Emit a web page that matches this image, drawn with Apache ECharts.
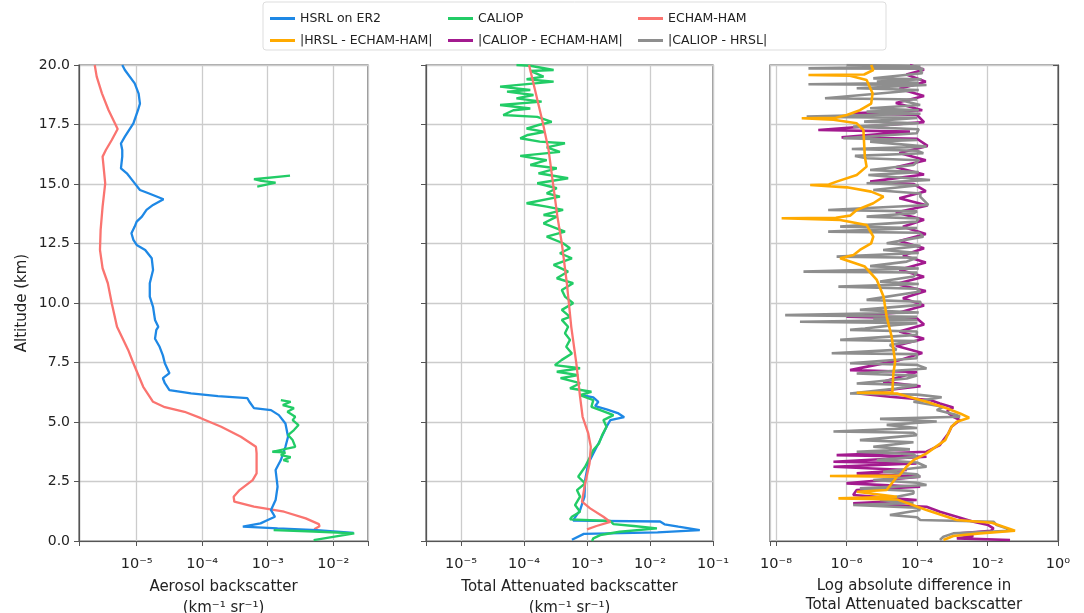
<!DOCTYPE html>
<html>
<head>
<meta charset="utf-8">
<script src="https://cdn.jsdelivr.net/npm/echarts@6/dist/echarts.min.js"></script>
<style>
  html, body { margin: 0; padding: 0; background: #fff; }
  #chart { width: 1084px; height: 613px; }
</style>
</head>
<body>
<div id="chart"></div>
<script>
// each profile: [altitude km, log10 of backscatter]
const hsrlAerosol = [[20.0,-5.22],[19.79,-5.18],[19.23,-5.03],[18.8,-4.97],[18.38,-4.95],[18.1,-4.98],[17.55,-5.05],[16.99,-5.18],[16.7,-5.24],[16.43,-5.22],[16.15,-5.22],[15.66,-5.24],[15.45,-5.15],[15.1,-5.05],[14.75,-4.95],[14.61,-4.82],[14.36,-4.59],[14.12,-4.75],[13.91,-4.85],[13.63,-4.92],[13.42,-5.0],[13.21,-5.03],[12.93,-5.08],[12.65,-5.05],[12.44,-5.0],[12.23,-4.87],[11.88,-4.77],[11.39,-4.75],[10.83,-4.8],[10.27,-4.8],[9.84,-4.75],[9.29,-4.72],[9.0,-4.67],[8.87,-4.7],[8.5,-4.72],[8.16,-4.65],[7.8,-4.6],[7.47,-4.57],[7.05,-4.5],[6.84,-4.6],[6.63,-4.57],[6.34,-4.5],[6.2,-4.17],[6.09,-3.76],[6.0,-3.31],[5.85,-3.28],[5.58,-3.21],[5.5,-2.95],[5.29,-2.83],[4.94,-2.73],[4.38,-2.69],[3.96,-2.73],[3.4,-2.8],[2.98,-2.88],[2.28,-2.85],[1.72,-2.88],[1.3,-2.95],[1.02,-2.89],[0.88,-3.0],[0.74,-3.11],[0.6,-3.38],[0.53,-2.85],[0.46,-2.25],[0.34,-1.69]];
const echamAerosol = [[20.0,-5.64],[19.51,-5.61],[18.81,-5.53],[18.11,-5.43],[17.31,-5.29],[16.85,-5.38],[16.43,-5.47],[16.15,-5.52],[15.03,-5.48],[14.05,-5.52],[13.07,-5.55],[12.23,-5.56],[11.46,-5.52],[10.83,-5.44],[9.99,-5.38],[9.0,-5.3],[8.03,-5.13],[7.47,-5.05],[6.48,-4.9],[5.85,-4.75],[5.62,-4.57],[5.43,-4.27],[5.16,-4.02],[4.8,-3.71],[4.38,-3.41],[3.96,-3.18],[3.68,-3.17],[2.84,-3.17],[2.56,-3.23],[2.14,-3.43],[1.86,-3.52],[1.65,-3.51],[1.44,-3.21],[1.23,-2.75],[0.95,-2.42],[0.71,-2.22],[0.62,-2.21],[0.49,-2.29]];
const caliopAerosolHigh = [[15.35,-2.66],[15.2,-3.21],[15.13,-3.1],[15.06,-2.88],[14.89,-3.16]];
const caliopAerosolMid = [[5.92,-2.8],[5.85,-2.65],[5.71,-2.77],[5.58,-2.6],[5.43,-2.7],[5.22,-2.58],[5.08,-2.62],[4.87,-2.53],[4.66,-2.6],[4.45,-2.69],[4.24,-2.62],[3.96,-2.58],[3.75,-2.93],[3.72,-2.73],[3.61,-2.8],[3.52,-2.65],[3.4,-2.76],[3.33,-2.68]];
const caliopAerosolLow = [[0.46,-2.91],[0.4,-2.3],[0.32,-1.68],[0.04,-2.3]];

const hsrlTotal = [[6.13,-3.08],[6.03,-2.9],[5.85,-2.82],[5.67,-2.87],[5.53,-2.69],[5.36,-2.5],[5.2,-2.41],[5.08,-2.63],[4.8,-2.69],[4.24,-2.79],[3.68,-2.9],[3.26,-2.98],[2.56,-3.03],[1.86,-3.04],[1.3,-3.11],[0.95,-3.2],[0.86,-3.22],[0.82,-1.84],[0.7,-1.77],[0.6,-1.55],[0.46,-1.21],[0.36,-1.88],[0.3,-3.05],[0.05,-3.24]];
const echamTotal = [[20.0,-3.92],[19.0,-3.83],[17.55,-3.7],[16.43,-3.61],[15.03,-3.54],[13.63,-3.47],[12.51,-3.4],[10.83,-3.32],[9.0,-3.25],[7.47,-3.17],[6.06,-3.11],[5.22,-3.07],[4.52,-2.98],[3.96,-2.94],[3.26,-2.96],[2.42,-3.03],[1.65,-3.08],[1.37,-2.95],[1.02,-2.74],[0.8,-2.63],[0.63,-2.85],[0.49,-3.0]];
const caliopTotal = [[20.0,-4.12],[19.97,-3.9],[19.79,-3.53],[19.75,-3.9],[19.51,-3.69],[19.4,-3.96],[19.3,-3.53],[19.09,-4.38],[18.95,-3.9],[18.88,-4.27],[18.74,-3.85],[18.6,-4.12],[18.46,-3.72],[18.32,-4.38],[18.17,-3.9],[18.1,-4.17],[17.9,-4.33],[17.82,-3.79],[17.61,-3.56],[17.48,-3.77],[17.33,-3.96],[17.19,-3.67],[17.06,-3.94],[16.92,-4.06],[16.78,-3.75],[16.71,-3.35],[16.54,-3.64],[16.35,-3.43],[16.18,-4.06],[16.0,-3.64],[15.8,-3.9],[15.66,-3.48],[15.45,-3.77],[15.24,-3.3],[15.03,-3.79],[14.82,-3.48],[14.61,-3.64],[14.47,-3.43],[14.19,-3.96],[14.05,-3.64],[13.91,-3.38],[13.7,-3.69],[13.63,-3.48],[13.35,-3.69],[13.0,-3.35],[12.79,-3.64],[12.51,-3.38],[12.3,-3.27],[12.09,-3.43],[11.88,-3.24],[11.6,-3.53],[11.32,-3.3],[11.04,-3.48],[10.83,-3.22],[10.55,-3.4],[10.27,-3.35],[9.99,-3.22],[9.71,-3.4],[9.42,-3.27],[9.29,-3.4],[9.0,-3.3],[8.73,-3.35],[8.45,-3.27],[8.16,-3.33],[7.88,-3.24],[7.61,-3.4],[7.39,-3.51],[7.26,-3.11],[7.11,-3.48],[6.97,-3.14],[6.84,-3.42],[6.63,-3.11],[6.42,-3.27],[6.27,-2.93],[6.13,-3.11],[5.92,-2.9],[5.64,-2.93],[5.5,-2.79],[5.29,-2.58],[5.08,-2.74],[4.8,-2.69],[4.45,-2.76],[4.1,-2.81],[3.82,-2.9],[3.54,-2.95],[3.12,-3.03],[2.7,-3.14],[2.42,-3.03],[2.14,-3.16],[1.86,-3.11],[1.51,-3.19],[1.23,-3.11],[1.02,-3.24],[0.91,-3.27],[0.84,-2.63],[0.71,-2.58],[0.63,-2.26],[0.53,-1.89],[0.39,-2.48],[0.25,-2.79],[0.11,-2.9],[0.0,-2.92]];

const diffHsrlEcham = [[20.0,-5.3],[19.79,-5.24],[19.6,-5.5],[19.58,-7.08],[19.55,-5.9],[19.37,-5.43],[18.81,-5.26],[18.38,-5.3],[18.1,-5.62],[17.9,-5.99],[17.78,-6.3],[17.76,-7.27],[17.7,-6.37],[17.55,-5.71],[17.27,-5.52],[16.71,-5.5],[16.15,-5.48],[15.73,-5.43],[15.38,-5.71],[15.1,-6.28],[14.98,-6.5],[14.96,-7.03],[14.86,-5.99],[14.68,-5.3],[14.47,-4.95],[14.19,-5.24],[13.91,-5.71],[13.67,-5.9],[13.58,-6.3],[13.56,-7.84],[13.49,-6.18],[13.28,-5.43],[12.79,-5.24],[12.51,-5.3],[12.23,-5.62],[12.02,-5.8],[11.88,-6.18],[11.74,-5.9],[11.53,-5.48],[10.97,-5.14],[10.27,-4.95],[9.42,-4.86],[8.59,-4.72],[7.53,-4.62],[7.05,-4.67],[6.25,-4.7],[6.23,-5.71],[6.2,-4.57],[5.85,-3.73],[5.58,-3.16],[5.36,-2.78],[5.18,-2.52],[5.01,-2.87],[4.8,-3.02],[4.24,-3.2],[3.68,-3.73],[3.4,-4.1],[3.12,-4.3],[2.75,-4.5],[2.73,-6.47],[2.7,-4.57],[2.14,-4.86],[2.07,-5.71],[1.86,-4.57],[1.79,-6.23],[1.75,-4.57],[1.3,-3.73],[0.88,-2.87],[0.77,-1.88],[0.6,-1.55],[0.43,-1.22],[0.32,-2.21],[0.21,-2.97],[0.04,-3.25]];
const diffCaliopEcham = [[20.0,-4.2],[19.8,-3.8],[19.6,-4.3],[19.3,-3.75],[19.0,-4.5],[18.7,-3.8],[18.4,-4.6],[18.1,-3.85],[17.97,-5.81],[17.9,-4.0],[17.6,-3.8],[17.27,-6.8],[17.2,-4.2],[16.96,-6.14],[16.9,-4.0],[16.6,-3.7],[16.3,-4.5],[16.0,-3.75],[15.7,-4.6],[15.4,-3.8],[15.1,-5.33],[15.0,-4.1],[14.7,-3.75],[14.4,-4.5],[14.1,-3.7],[13.8,-4.6],[13.5,-3.8],[13.2,-4.4],[12.9,-3.75],[12.6,-4.5],[12.3,-3.8],[12.0,-4.4],[11.7,-3.75],[11.4,-4.5],[11.1,-3.8],[10.8,-4.6],[10.5,-3.75],[10.2,-4.4],[9.9,-3.8],[9.6,-4.5],[9.42,-6.0],[9.35,-4.0],[9.1,-3.8],[8.8,-4.5],[8.5,-3.8],[8.2,-4.6],[7.9,-3.85],[7.6,-4.5],[7.18,-5.9],[7.1,-4.0],[6.69,-4.96],[6.5,-3.9],[6.2,-5.66],[6.06,-4.77],[5.92,-3.63],[5.78,-3.35],[5.61,-2.97],[5.43,-3.16],[5.22,-2.97],[5.08,-2.78],[4.8,-3.02],[4.52,-3.11],[4.24,-3.25],[4.03,-3.35],[3.89,-3.54],[3.75,-3.73],[3.61,-6.28],[3.54,-3.73],[3.33,-6.37],[3.26,-4.01],[3.12,-6.37],[2.98,-4.29],[2.84,-5.71],[2.7,-3.91],[2.42,-6.0],[2.28,-3.91],[2.14,-5.71],[1.93,-5.81],[1.72,-4.01],[1.58,-5.81],[1.44,-3.73],[1.23,-3.35],[1.02,-2.87],[0.81,-2.4],[0.67,-1.98],[0.53,-1.83],[0.43,-1.9],[0.32,-2.78],[0.21,-2.4],[0.11,-2.87],[0.04,-1.36]];
const diffCaliopHsrl = [[20.0,-6.0],[19.97,-4.48],[19.93,-3.9],[19.86,-7.08],[19.84,-3.82],[19.79,-3.91],[19.65,-3.85],[19.44,-5.24],[19.4,-3.87],[19.3,-5.14],[19.25,-3.95],[19.19,-7.08],[19.16,-3.73],[19.02,-5.71],[18.95,-3.95],[18.88,-3.91],[18.6,-6.61],[18.55,-4.0],[18.53,-4.48],[18.32,-3.91],[18.18,-5.33],[18.1,-3.95],[18.04,-5.43],[17.95,-3.9],[17.83,-7.13],[17.78,-4.0],[17.62,-5.5],[17.55,-3.95],[17.41,-5.81],[17.3,-3.95],[17.13,-4.01],[16.92,-6.09],[16.85,-4.0],[16.78,-5.33],[16.57,-3.73],[16.47,-5.85],[16.4,-4.0],[16.29,-3.82],[16.18,-5.76],[16.08,-5.43],[16.0,-3.95],[15.8,-4.1],[15.59,-5.33],[15.5,-3.95],[15.38,-5.38],[15.17,-3.63],[15.03,-5.43],[14.95,-3.95],[14.75,-5.24],[14.6,-3.9],[14.47,-3.91],[14.12,-3.68],[13.91,-6.52],[13.85,-4.0],[13.77,-4.1],[13.63,-5.43],[13.55,-3.95],[13.42,-4.01],[13.21,-6.18],[13.15,-4.0],[13.0,-6.52],[12.95,-3.95],[12.79,-3.82],[12.51,-4.86],[12.4,-3.9],[12.23,-4.96],[12.1,-3.95],[11.95,-6.28],[11.9,-4.0],[11.74,-4.29],[11.55,-5.33],[11.45,-3.95],[11.32,-7.22],[11.28,-4.0],[11.11,-4.1],[10.9,-5.05],[10.8,-3.95],[10.69,-6.23],[10.6,-4.0],[10.48,-3.91],[10.13,-5.43],[10.05,-3.9],[9.92,-3.91],[9.71,-5.62],[9.6,-3.95],[9.49,-7.74],[9.42,-4.0],[9.35,-5.24],[9.28,-4.0],[9.21,-7.32],[9.15,-4.0],[9.07,-4.67],[8.93,-5.48],[8.87,-5.9],[8.8,-4.0],[8.66,-4.01],[8.45,-6.18],[8.4,-4.0],[8.24,-4.77],[8.03,-4.58],[7.89,-6.42],[7.85,-4.0],[7.68,-4.01],[7.47,-5.9],[7.4,-4.0],[7.25,-3.73],[7.04,-5.71],[6.95,-4.0],[6.83,-4.29],[6.62,-5.71],[6.55,-4.0],[6.41,-4.58],[6.2,-5.9],[6.15,-4.0],[6.04,-3.3],[5.85,-4.1],[5.64,-3.25],[5.5,-3.44],[5.29,-2.87],[5.22,-2.78],[5.13,-5.05],[5.02,-3.44],[4.88,-4.86],[4.75,-4.0],[4.6,-6.37],[4.55,-4.1],[4.45,-4.01],[4.24,-5.62],[4.15,-4.1],[3.96,-5.24],[3.85,-4.2],[3.75,-5.71],[3.65,-4.1],[3.54,-4.01],[3.4,-5.14],[3.3,-4.0],[3.12,-3.73],[2.91,-4.96],[2.8,-4.0],[2.7,-3.91],[2.56,-5.24],[2.45,-4.0],[2.35,-3.73],[2.21,-5.62],[2.1,-4.1],[2.0,-4.1],[1.72,-5.05],[1.6,-4.1],[1.51,-5.81],[1.4,-4.0],[1.3,-3.91],[1.09,-4.77],[1.0,-4.0],[0.88,-3.91],[0.81,-1.83],[0.67,-1.74],[0.53,-1.46],[0.43,-1.36],[0.32,-2.97],[0.18,-3.25],[0.04,-3.35]];

const altitudeTicks = [0, 2.5, 5, 7.5, 10, 12.5, 15, 17.5, 20];

const FONT = "DejaVu Sans";
const COLORS = {
  hsrl: "#1e88e5",
  caliop: "#22cc66",
  echam: "#fa7470",
  dHE: "#ffaa00",
  dCE: "#a31a8f",
  dCH: "#8e8e8e",
};
const SUP = { "-": "\u207b", "0": "\u2070", "1": "\u00b9", "2": "\u00b2", "3": "\u00b3", "4": "\u2074", "5": "\u2075", "6": "\u2076", "7": "\u2077", "8": "\u2078", "9": "\u2079" };
const sup = (n) => String(n).split("").map((c) => SUP[c]).join("");
const powLabel = (e) => {
  const r = Math.round(e);
  if (Math.abs(e - r) > 1e-6) return "";
  return "10" + sup(r);
};

const toPoints = (pairs) => pairs.map((p) => [Math.pow(10, p[1]), p[0]]);

const chart = echarts.init(document.getElementById("chart"), null, { renderer: "canvas" });

const grids = [
  { left: 79, top: 65, width: 289, height: 476 },
  { left: 426, top: 65, width: 287, height: 476 },
  { left: 770, top: 65, width: 288, height: 476 },
].map((g) => ({ ...g, show: true, borderColor: "#555", borderWidth: 1.2, backgroundColor: "#fff", containLabel: false, outerBoundsMode: "none" }));

const gridLine = { show: true, lineStyle: { color: "#cccccc", width: 1.3 } };
const axisLine = { show: true, lineStyle: { color: "#555", width: 1.2 } };
const tick = { show: true, length: 5, lineStyle: { color: "#555" } };
const tickLabel = { fontFamily: FONT, fontSize: 14, color: "#222", margin: 9 };
const xTickLabel = { ...tickLabel, fontSize: 14.5, margin: 16 };
const nameStyle = { fontFamily: FONT, fontSize: 15, color: "#222", lineHeight: 21 };

const logX = (gi, min, max, name) => ({
  type: "log",
  gridIndex: gi,
  position: "bottom",
  min,
  max,
  logBase: 10,
  axisLine,
  axisTick: tick,
  splitLine: gridLine,
  axisLabel: { ...xTickLabel, formatter: (v) => powLabel(Math.log10(v)), showMaxLabel: true },
  name,
  nameLocation: "middle",
  nameGap: 33,
  nameTextStyle: { ...nameStyle, verticalAlign: "top" },
});

const yAxis = (gi, showLabels) => ({
  type: "value",
  gridIndex: gi,
  position: "left",
  min: altitudeTicks[0],
  max: altitudeTicks[altitudeTicks.length - 1],
  interval: altitudeTicks[1] - altitudeTicks[0],
  axisLine,
  axisTick: tick,
  splitLine: gridLine,
  axisLabel: { ...tickLabel, show: showLabels, formatter: (v) => v.toFixed(1) },
  name: showLabels ? "Altitude (km)" : "",
  nameLocation: "middle",
  nameGap: 46,
  nameRotate: 90,
  nameTextStyle: { ...nameStyle },
});

const line = (name, color, pairs, axis, width, z) => ({
  name,
  type: "line",
  xAxisIndex: axis,
  yAxisIndex: axis,
  data: toPoints(pairs),
  showSymbol: false,
  symbol: "none",
  color,
  lineStyle: { color, width },
  z,
  animation: false,
});

const legendBase = {
  orient: "vertical",
  top: 12,
  padding: 0,
  icon: "rect",
  itemWidth: 25,
  itemHeight: 3,
  itemGap: 9,
  textStyle: { fontFamily: FONT, fontSize: 12.5, color: "#222" },
};

chart.setOption({
  backgroundColor: "#fff",
  animation: false,
  graphic: [
    {
      type: "rect",
      shape: { x: 263, y: 2, width: 623, height: 48, r: 3 },
      style: { fill: "#fff", stroke: "#dddddd", lineWidth: 1 },
      z: -1,
    },
  ],
  legend: [
    { ...legendBase, left: 270, data: ["HSRL on ER2", "|HRSL - ECHAM-HAM|"] },
    { ...legendBase, left: 448, data: ["CALIOP", "|CALIOP - ECHAM-HAM|"] },
    { ...legendBase, left: 638, data: ["ECHAM-HAM", "|CALIOP - HRSL|"] },
  ],
  grid: grids,
  xAxis: [
    logX(0, Math.pow(10, -5.88), Math.pow(10, -1.47), "Aerosol backscatter\n(km\u207b\u00b9 sr\u207b\u00b9)"),
    logX(1, Math.pow(10, -5.556), 0.1, "Total Attenuated backscatter\n(km\u207b\u00b9 sr\u207b\u00b9)"),
    // data axis of the third panel
    { type: "log", gridIndex: 2, position: "top", min: Math.pow(10, -8.17), max: 1, show: false },
    // labels of the third panel: every second decade
    {
      type: "value",
      gridIndex: 2,
      position: "bottom",
      min: -8.17,
      max: 0,
      splitNumber: 4,
      axisLine,
      axisTick: tick,
      splitLine: gridLine,
      axisLabel: { ...xTickLabel, formatter: (v) => powLabel(v), showMaxLabel: true, showMinLabel: true },
      name: "Log absolute difference in\nTotal Attenuated backscatter",
      nameLocation: "middle",
      nameGap: 34,
      nameTextStyle: { ...nameStyle, lineHeight: 19, verticalAlign: "top" },
    },
  ],
  yAxis: [yAxis(0, true), yAxis(1, false), yAxis(2, false)],
  series: [
    line("ECHAM-HAM", COLORS.echam, echamAerosol, 0, 2.3, 2),
    line("HSRL on ER2", COLORS.hsrl, hsrlAerosol, 0, 2.3, 3),
    line("CALIOP", COLORS.caliop, caliopAerosolHigh, 0, 2.3, 4),
    line("CALIOP", COLORS.caliop, caliopAerosolMid, 0, 2.3, 4),
    line("CALIOP", COLORS.caliop, caliopAerosolLow, 0, 2.3, 4),
    line("HSRL on ER2", COLORS.hsrl, hsrlTotal, 1, 2.3, 2),
    line("CALIOP", COLORS.caliop, caliopTotal, 1, 2.4, 3),
    line("ECHAM-HAM", COLORS.echam, echamTotal, 1, 2.3, 4),
    line("|CALIOP - ECHAM-HAM|", COLORS.dCE, diffCaliopEcham, 2, 2.6, 2),
    line("|CALIOP - HRSL|", COLORS.dCH, diffCaliopHsrl, 2, 2.6, 3),
    line("|HRSL - ECHAM-HAM|", COLORS.dHE, diffHsrlEcham, 2, 2.6, 4),
  ],
});
</script>
</body>
</html>
